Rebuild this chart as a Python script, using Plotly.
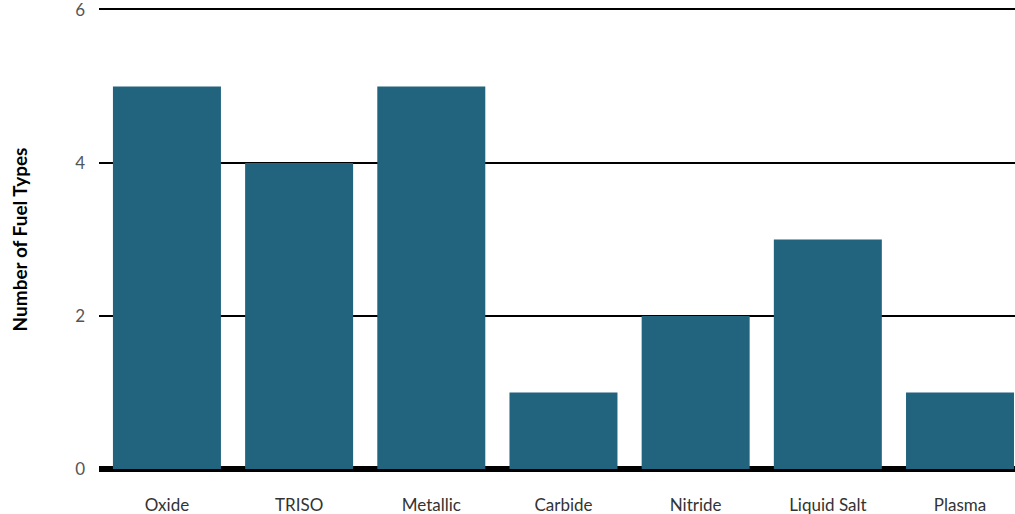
import plotly.graph_objects as go

categories = ["Oxide", "TRISO", "Metallic", "Carbide", "Nitride", "Liquid Salt", "Plasma"]
fuel_counts = [5, 4, 5, 1, 2, 3, 1]
y_ticks = [0, 2, 4, 6]

fig = go.Figure(
    go.Bar(
        x=list(range(len(categories))),
        y=fuel_counts,
        marker=dict(color="#22637D", line=dict(width=0)),
        hoverinfo="skip",
    )
)

fig.update_layout(
    width=1015,
    height=514,
    margin=dict(l=99, r=0, t=10, b=45),
    paper_bgcolor="white",
    plot_bgcolor="white",
    bargap=0.183,
    showlegend=False,
    font=dict(family="Lato, Open Sans, sans-serif"),
)

# the mirrored x-axis line gives the rule at the top of the plot (y = 6)
fig.update_xaxes(
    tickmode="array",
    tickvals=list(range(len(categories))),
    ticktext=categories,
    range=[-0.514, 6.416],
    showgrid=False,
    zeroline=False,
    showline=True,
    mirror=True,
    linecolor="black",
    linewidth=1.5,
    ticks="",
    ticklabelstandoff=20,
    ticklabeloverflow="allow",
    tickfont=dict(size=17, color="#333333"),
    automargin=False,
)

fig.update_yaxes(
    range=[0, 6],
    tickmode="array",
    tickvals=y_ticks,
    showgrid=True,
    gridcolor="black",
    gridwidth=1.5,
    zeroline=True,
    zerolinecolor="black",
    zerolinewidth=5.5,
    showline=False,
    ticks="",
    ticklabelstandoff=13,
    ticklabeloverflow="allow",
    tickfont=dict(size=17, color="#555555"),
    title=dict(
        text="<b>Number of Fuel Types</b>",
        font=dict(size=19, color="black"),
        standoff=42,
    ),
    automargin=False,
)

fig.write_html("out.html")
